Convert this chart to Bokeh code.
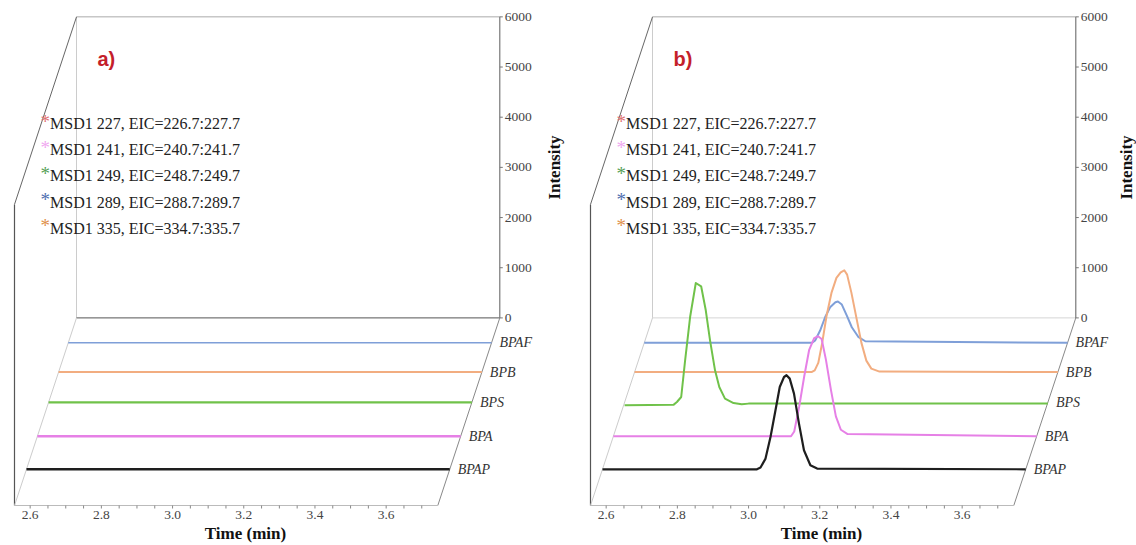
import math
from bokeh.plotting import figure
from bokeh.layouts import row
from bokeh.models import Range1d
from bokeh.core.properties import value
from bokeh.embed import file_html
from bokeh.resources import INLINE

# ------------------------------------------------------------------ data
compounds = ["BPAF", "BPB", "BPS", "BPA", "BPAP"]
legend_labels = [
    "MSD1 227, EIC=226.7:227.7",
    "MSD1 241, EIC=240.7:241.7",
    "MSD1 249, EIC=248.7:249.7",
    "MSD1 289, EIC=288.7:289.7",
    "MSD1 335, EIC=334.7:335.7",
]
panel_titles = ["a)", "b)"]
x_title = "Time (min)"
y_title = "Intensity"
time_min = 2.556
time_max = 3.745
time_major_ticks = [2.6, 2.8, 3.0, 3.2, 3.4, 3.6]
time_major_labels = ["2.6", "2.8", "3.0", "3.2", "3.4", "3.6"]
time_minor_ticks = [2.65, 2.7, 2.75, 2.85, 2.9, 2.95, 3.05, 3.1, 3.15, 3.25, 3.3, 3.35,
                    3.45, 3.5, 3.55, 3.65, 3.7]
intensity_ticks = [0, 1000, 2000, 3000, 4000, 5000, 6000]

# panel a: blank sample, flat baselines
a_time = [2.556, 3.745]
a_bpaf = [0, 0]
a_bpb = [0, 0]
a_bps = [0, 0]
a_bpa = [0, 0]
a_bpap = [0, 0]

# panel b: spiked sample
b_bpaf_time = [2.556, 3.027, 3.036, 3.050, 3.064, 3.078, 3.093, 3.100, 3.111, 3.125, 3.139, 3.158, 3.177, 3.745]
b_bpaf_int = [0, 0, 46, 245, 510, 709, 809, 823, 763, 544, 311, 112, 32, 0]

b_bpb_time = [2.556, 3.053, 3.062, 3.072, 3.083, 3.095, 3.109, 3.123, 3.135, 3.145, 3.153, 3.165, 3.179,
              3.193, 3.207, 3.221, 3.244, 3.745]
b_bpb_int = [0, 0, 36, 183, 582, 1112, 1578, 1877, 1989, 2029, 1943, 1584, 1086, 588, 229, 70, 10, 0]

b_bps_time = [2.556, 2.694, 2.703, 2.715, 2.726, 2.740, 2.756, 2.771, 2.784, 2.796, 2.810, 2.822, 2.838,
              2.862, 2.885, 2.904, 3.745]
b_bps_int = [-60, -46, 6, 106, 838, 1700, 2378, 2312, 1834, 1236, 638, 305, 73, -14, -40, -26, -26]

b_bpa_time = [2.556, 3.055, 3.064, 3.078, 3.092, 3.106, 3.120, 3.131, 3.141, 3.153, 3.167, 3.181, 3.195,
              3.214, 3.745]
b_bpa_int = [0, 0, 96, 594, 1192, 1724, 1957, 1993, 1940, 1528, 930, 396, 130, 44, 0]

b_bpap_time = [2.556, 2.990, 3.000, 3.014, 3.028, 3.042, 3.054, 3.066, 3.073, 3.082, 3.094, 3.108, 3.122,
               3.140, 3.159, 3.745]
b_bpap_int = [0, 0, 34, 213, 644, 1176, 1640, 1840, 1874, 1807, 1508, 910, 379, 80, 14, 0]

series_a = {"BPAF": (a_time, a_bpaf), "BPB": (a_time, a_bpb), "BPS": (a_time, a_bps),
            "BPA": (a_time, a_bpa), "BPAP": (a_time, a_bpap)}
series_b = {"BPAF": (b_bpaf_time, b_bpaf_int), "BPB": (b_bpb_time, b_bpb_int),
            "BPS": (b_bps_time, b_bps_int), "BPA": (b_bpa_time, b_bpa_int),
            "BPAP": (b_bpap_time, b_bpap_int)}

# ------------------------------------------------------------------ layout / style
FIG_W, FIG_H = 568, 545
PX_PER_MIN = 356.0
INT_PER_PX = 19.93
BACK_ZERO_PY = 317.4
FRONT_FLOOR_PY = 505.0
SHIFT_PX = 62.0
REF_FRONT_LEFT = 14.0
depth = {"BPAF": 0.133, "BPB": 0.289, "BPS": 0.45, "BPA": 0.631, "BPAP": 0.807}
line_colors = {"BPAF": "#7f9fd8", "BPB": "#f2ad80", "BPS": "#70c24a", "BPA": "#e680e6", "BPAP": "#1e1e1e"}
star_colors = ["#e07070", "#f0a8f0", "#55a055", "#4e6eb0", "#e0904a"]
SERIF = "Liberation Serif"


def build_panel(series, title, fig_left, front_left_px, widths, back_floor_color, ylabel_px):
    fl = front_left_px - fig_left
    x0 = time_min - fl / PX_PER_MIN
    x1 = x0 + FIG_W / PX_PER_MIN
    S = SHIFT_PX / PX_PER_MIN
    y1 = BACK_ZERO_PY * INT_PER_PX
    y0 = -(FIG_H - BACK_ZERO_PY) * INT_PER_PX
    D = (FRONT_FLOOR_PY - BACK_ZERO_PY) * INT_PER_PX
    off = front_left_px - REF_FRONT_LEFT
    px1 = 1.0 / PX_PER_MIN  # one pixel in time units

    def proj(t, v, d):
        return t + S * (1 - d), v - D * d

    def page(xp, yp):
        return x0 + (xp + off - fig_left) / PX_PER_MIN, y1 - yp * INT_PER_PX

    p = figure(width=FIG_W, height=FIG_H, x_range=Range1d(x0, x1), y_range=Range1d(y0, y1),
               x_axis_location=None, y_axis_location=None, toolbar_location=None,
               output_backend="svg", min_border=0)
    p.outline_line_color = None
    p.xgrid.visible = False
    p.ygrid.visible = False
    p.background_fill_color = "white"
    p.border_fill_color = "white"

    ymax = intensity_ticks[-1]
    edges = [
        ((time_min, ymax, 0), (time_max, ymax, 0), "#aaaaaa", 1),
        ((time_min, ymax, 0), (time_min, 0, 0), "#cccccc", 1),
        ((time_min, 0, 0), (time_max, 0, 0), back_floor_color, 1),
        ((time_min, ymax, 0), (time_min, ymax, 1), "#666666", 1),
        ((time_min, ymax, 1), (time_min, 0, 1), "#555555", 1.2),
        ((time_min, 0, 0), (time_min, 0, 1), "#cccccc", 1),
        ((time_max, 0, 0), (time_max, 0, 1), "#888888", 1),
        ((time_min, 0, 1), (time_max, 0, 1), "#bbbbbb", 1),
        ((time_max, 0, 0), (time_max, ymax, 0), "#777777", 1.2),
    ]
    for a, b, c, w in edges:
        xa, ya = proj(*a)
        xb, yb = proj(*b)
        p.segment(x0=[xa], y0=[ya], x1=[xb], y1=[yb], line_color=c, line_width=w)

    # intensity axis on the back wall
    xb, _ = proj(time_max, 0, 0)
    n = len(intensity_ticks)
    p.segment(x0=[xb] * n, y0=intensity_ticks, x1=[xb + 3 * px1] * n, y1=intensity_ticks,
              line_color="#777777", line_width=1)
    p.text(x=[xb + 5 * px1] * n, y=intensity_ticks, text=[f"{v:d}" for v in intensity_ticks],
           text_font=value(SERIF), text_font_size="13.5px", text_color="#444444",
           text_baseline="middle", text_align="left")

    # time axis on the front edge of the floor
    fy = -D
    tick_len = 3 * INT_PER_PX
    all_ticks = time_major_ticks + time_minor_ticks
    p.segment(x0=all_ticks, y0=[fy] * len(all_ticks), x1=all_ticks, y1=[fy - tick_len] * len(all_ticks),
              line_color="#888888", line_width=1)
    _, ly = page(0, 514)
    p.text(x=time_major_ticks, y=[ly] * len(time_major_ticks), text=time_major_labels,
           text_font=value(SERIF), text_font_size="13.5px", text_color="#444444",
           text_baseline="middle", text_align="center")
    tx_, ty_ = page(245, 533)
    p.text(x=[tx_], y=[ty_], text=[x_title], text_font=value(SERIF), text_font_style="bold",
           text_font_size="17px", text_color="#111111", text_baseline="middle", text_align="center")

    for name in compounds:
        t, v = series[name]
        d = depth[name]
        pts = [proj(ti, vi, d) for ti, vi in zip(t, v)]
        p.line([q[0] for q in pts], [q[1] for q in pts], line_color=line_colors[name],
               line_width=widths[name], line_join="round")
        lx, ly2 = proj(time_max, 0, d)
        p.text(x=[lx + 8 * px1], y=[ly2], text=[name], text_font=value(SERIF),
               text_font_style="italic", text_font_size="14px", text_color="#333333",
               text_baseline="middle", text_align="left")

    # legend block
    sx, tx, sy, ty = [], [], [], []
    for i in range(len(legend_labels)):
        yp = 123 + 26.2 * i
        a, b = page(40.0, yp - 2.5)
        sx.append(a)
        sy.append(b)
        c, e = page(49.5, yp)
        tx.append(c)
        ty.append(e)
    p.text(x=sx, y=sy, text=["*"] * len(legend_labels), text_font=value(SERIF), text_font_size="19px",
           text_color=star_colors, text_baseline="middle", text_align="left")
    p.text(x=tx, y=ty, text=legend_labels, text_font=value(SERIF), text_font_size="16px",
           text_color="#222222", text_baseline="middle", text_align="left")

    # panel title
    px_, py_ = page(97, 58.5)
    p.text(x=[px_], y=[py_], text=[title], text_font=value("Liberation Sans"), text_font_style="bold",
           text_font_size="20px", text_color="#c41e2a", text_baseline="middle", text_align="left")

    # intensity title
    ix, iy = page(ylabel_px, 167)
    p.text(x=[ix], y=[iy], text=[y_title], angle=math.pi / 2, text_font=value(SERIF),
           text_font_style="bold", text_font_size="17px", text_color="#111111",
           text_baseline="middle", text_align="center")
    return p


widths_a = {"BPAF": 1.5, "BPB": 2.0, "BPS": 2.3, "BPA": 2.5, "BPAP": 2.5}
widths_b = {"BPAF": 2.0, "BPB": 2.0, "BPS": 2.0, "BPA": 2.0, "BPAP": 2.2}

pa = build_panel(series_a, panel_titles[0], 0, 14, widths_a, "#555555", 554)
pb = build_panel(series_b, panel_titles[1], 568, 590, widths_b, "#d5d5d5", 550)

layout = row(pa, pb)
open("out.html", "w").write(file_html(layout, INLINE))
